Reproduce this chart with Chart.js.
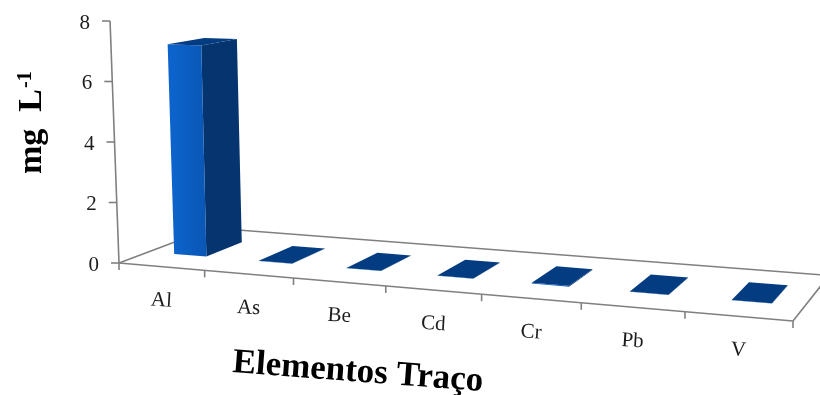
<!DOCTYPE html>
<html>
<head>
<meta charset="utf-8">
<title>Elementos Traço</title>
<script src="https://cdn.jsdelivr.net/npm/chart.js@4/dist/chart.umd.min.js"></script>
<style>
    body { margin: 0; background: #fff; }
    canvas { display: block; }
</style>
</head>
<body>
<canvas id="traceChart" width="820" height="395"></canvas>
<script>
const categories = ['Al', 'As', 'Be', 'Cd', 'Cr', 'Pb', 'V'];
const concentrations = [7.1, 0.01, 0.01, 0.01, 0.03, 0.01, 0.01];
const yTickValues = [0, 2, 4, 6, 8];

// Floor of the 3D box on screen: front-left, front-right, back-right, back-left
const FLOOR = [[119, 263], [793, 321], [829, 275.5], [212, 228]];
const AXIS_HEIGHT = 242;
const BAR_FRONT = 0.3, BAR_BACK = 0.7;

const SERIF = '"Liberation Serif", "Times New Roman", serif';

function floorMatrix(q) {
    const dx1 = q[1][0] - q[2][0], dx2 = q[3][0] - q[2][0];
    const dy1 = q[1][1] - q[2][1], dy2 = q[3][1] - q[2][1];
    const sx = q[0][0] - q[1][0] + q[2][0] - q[3][0];
    const sy = q[0][1] - q[1][1] + q[2][1] - q[3][1];
    const den = dx1 * dy2 - dx2 * dy1;
    const g = (sx * dy2 - dx2 * sy) / den;
    const h = (dx1 * sy - sx * dy1) / den;
    return {
        a: q[1][0] - q[0][0] + g * q[1][0],
        b: q[3][0] - q[0][0] + h * q[3][0],
        c: q[0][0],
        d: q[1][1] - q[0][1] + g * q[1][1],
        e: q[3][1] - q[0][1] + h * q[3][1],
        f: q[0][1],
        g: g,
        h: h
    };
}

const M = floorMatrix(FLOOR);

// u runs along the category axis, w goes into the depth, rise is in pixels at the origin
function project(u, w, rise) {
    const den = M.g * u + M.h * w + 1;
    const x = (M.a * u + M.b * w + M.c) / den;
    const y = (M.d * u + M.e * w + M.f) / den;
    const h = (rise || 0) / den;
    const lean = -0.037 + 0.13 * u;
    return [x + lean * h, y - h];
}

function fillPoly(ctx, pts, color) {
    ctx.beginPath();
    pts.forEach((p, i) => i ? ctx.lineTo(p[0], p[1]) : ctx.moveTo(p[0], p[1]));
    ctx.closePath();
    ctx.fillStyle = color;
    ctx.fill();
}

function line(ctx, p, q) {
    ctx.beginPath();
    ctx.moveTo(p[0], p[1]);
    ctx.lineTo(q[0], q[1]);
    ctx.stroke();
}

function tiltedText(ctx, text, x, y, angle) {
    ctx.save();
    ctx.translate(x, y);
    ctx.rotate(angle);
    ctx.fillText(text, 0, 0);
    ctx.restore();
}

function drawBox(ctx, chart) {
    const xs = chart.scales.x, ys = chart.scales.y;
    const area = chart.chartArea;

    ctx.strokeStyle = '#808080';
    ctx.lineWidth = 1.6;
    // floor outline
    line(ctx, project(0, 0), project(1, 0));
    line(ctx, project(1, 0), project(1, 1));
    line(ctx, project(1, 1), project(0, 1));
    line(ctx, project(0, 1), project(0, 0));

    // value axis
    ctx.fillStyle = '#1c1c1c';
    ctx.font = '21px ' + SERIF;
    ctx.textAlign = 'right';
    ctx.textBaseline = 'middle';
    line(ctx, project(0, 0), project(0, 0, AXIS_HEIGHT));
    ys.ticks.forEach(t => {
        const rise = (area.bottom - ys.getPixelForValue(t.value)) / area.height * AXIS_HEIGHT;
        const p = project(0, 0, rise);
        line(ctx, [p[0] - 8, p[1]], p);
        ctx.fillText(t.label, p[0] - 20, p[1] + 2);
    });

    // category axis
    ctx.textAlign = 'center';
    const n = categories.length;
    for (let i = 0; i <= n; i++) {
        const p = project((xs.getPixelForValue(i - 0.5) - area.left) / area.width, 0);
        line(ctx, p, [p[0], p[1] + 7]);
    }
    categories.forEach((c, i) => {
        const p = project((xs.getPixelForValue(i) - area.left) / area.width, 0);
        tiltedText(ctx, c, p[0], p[1] + 34, 0.06);
    });
}

function drawBars(ctx, chart) {
    const area = chart.chartArea;
    chart.getDatasetMeta(0).data.forEach(bar => {
        const u0 = (bar.x - bar.width / 2 - area.left) / area.width;
        const u1 = (bar.x + bar.width / 2 - area.left) / area.width;
        const rise = (bar.base - bar.y) / area.height * AXIS_HEIGHT;

        const fl0 = project(u0, BAR_FRONT), fr0 = project(u1, BAR_FRONT), br0 = project(u1, BAR_BACK);
        const fl1 = project(u0, BAR_FRONT, rise), fr1 = project(u1, BAR_FRONT, rise);
        const br1 = project(u1, BAR_BACK, rise), bl1 = project(u0, BAR_BACK, rise);

        fillPoly(ctx, [fr0, br0, br1, fr1], '#05346f');
        const front = ctx.createLinearGradient(fl0[0], 0, fr0[0], 0);
        front.addColorStop(0, '#0c63cb');
        front.addColorStop(1, '#0a56b4');
        fillPoly(ctx, [fl0, fr0, fr1, fl1], front);
        fillPoly(ctx, [fl1, fr1, br1, bl1], '#043c82');
    });
}

function drawTitles(ctx) {
    ctx.fillStyle = '#000';
    ctx.textBaseline = 'alphabetic';
    ctx.textAlign = 'left';

    // y title: the exponent sits above the baseline, so it gets its own call
    ctx.font = 'bold 34px ' + SERIF;
    tiltedText(ctx, 'mg  L', 41, 174, -Math.PI / 2);
    ctx.font = 'bold 20px ' + SERIF;
    tiltedText(ctx, '-1', 31, 88, -Math.PI / 2);

    ctx.font = 'bold 35px ' + SERIF;
    tiltedText(ctx, 'Elementos Traço', 232, 372, 0.076);
}

const box3d = {
    id: 'box3d',
    beforeDatasetsDraw(chart) {
        const ctx = chart.ctx;
        ctx.save();
        drawBox(ctx, chart);
        drawBars(ctx, chart);
        drawTitles(ctx);
        ctx.restore();
        // the flat bars are replaced by the projected ones
        return false;
    }
};

new Chart(document.getElementById('traceChart').getContext('2d'), {
    type: 'bar',
    data: {
        labels: categories,
        datasets: [{
            label: 'mg L-1',
            data: concentrations,
            backgroundColor: '#0c63cb',
            barPercentage: 0.385,
            categoryPercentage: 1
        }]
    },
    options: {
        responsive: false,
        animation: false,
        plugins: {
            legend: { display: false },
            tooltip: { enabled: false }
        },
        scales: {
            x: { display: false },
            y: {
                display: false,
                min: 0,
                max: 8,
                afterBuildTicks: scale => {
                    scale.ticks = yTickValues.map(v => ({ value: v, label: String(v) }));
                }
            }
        }
    },
    plugins: [box3d]
});
</script>
</body>
</html>
